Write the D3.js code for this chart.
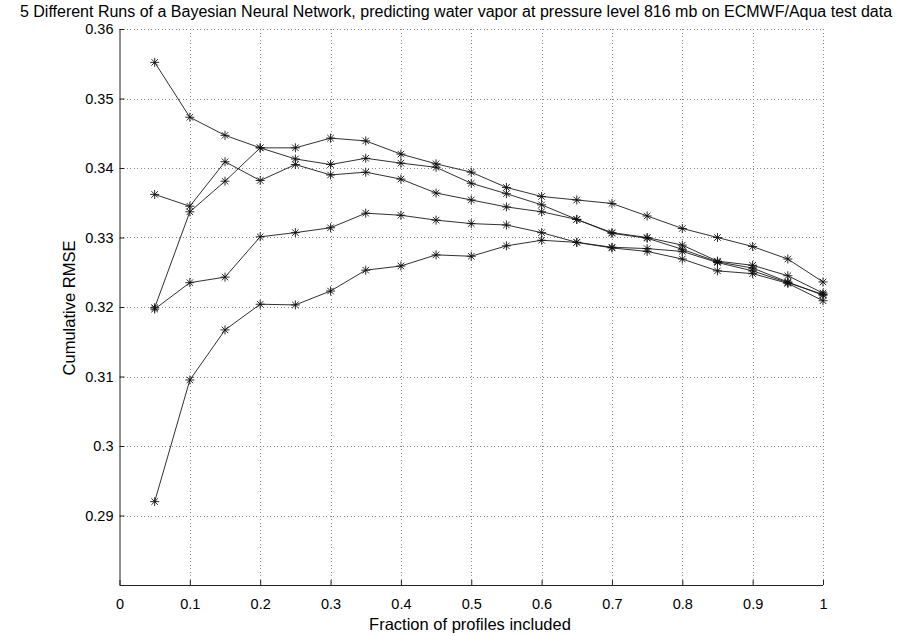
<!DOCTYPE html>
<html>
<head>
<meta charset="utf-8">
<script src="https://cdn.jsdelivr.net/npm/d3@7"></script>
<style>
  html, body { margin: 0; padding: 0; background: #fff; }
  svg { display: block; }
  text { font-family: "Liberation Sans", Arial, Helvetica, sans-serif; fill: #000; }
</style>
</head>
<body>
<script>
// Fraction of profiles included (x) and cumulative RMSE for five runs
const fractions = [0.05, 0.10, 0.15, 0.20, 0.25, 0.30, 0.35, 0.40, 0.45, 0.50,
                   0.55, 0.60, 0.65, 0.70, 0.75, 0.80, 0.85, 0.90, 0.95, 1.00];

const run1 = [0.3552, 0.3473, 0.3447, 0.3429, 0.3413, 0.3405, 0.3414, 0.3407, 0.3401, 0.3378,
              0.3363, 0.3347, 0.3326, 0.3307, 0.3300, 0.3289, 0.3266, 0.3260, 0.3245, 0.3220];
const run2 = [0.3199, 0.3337, 0.3381, 0.3429, 0.3429, 0.3443, 0.3439, 0.3420, 0.3406, 0.3394,
              0.3372, 0.3359, 0.3354, 0.3349, 0.3331, 0.3313, 0.3300, 0.3287, 0.3269, 0.3236];
const run3 = [0.3362, 0.3345, 0.3409, 0.3382, 0.3405, 0.3390, 0.3394, 0.3384, 0.3364, 0.3354,
              0.3344, 0.3337, 0.3326, 0.3306, 0.3299, 0.3283, 0.3265, 0.3256, 0.3236, 0.3217];
const run4 = [0.3197, 0.3235, 0.3243, 0.3301, 0.3307, 0.3314, 0.3335, 0.3332, 0.3325, 0.3320,
              0.3318, 0.3307, 0.3293, 0.3286, 0.3284, 0.3280, 0.3264, 0.3252, 0.3235, 0.3218];
const run5 = [0.2920, 0.3095, 0.3167, 0.3204, 0.3203, 0.3223, 0.3253, 0.3259, 0.3275, 0.3273,
              0.3288, 0.3296, 0.3293, 0.3285, 0.3280, 0.3269, 0.3252, 0.3248, 0.3234, 0.3209];

const runs = [run1, run2, run3, run4, run5];

const xTicks = [0, 0.1, 0.2, 0.3, 0.4, 0.5, 0.6, 0.7, 0.8, 0.9, 1];
const yTicks = [0.29, 0.30, 0.31, 0.32, 0.33, 0.34, 0.35, 0.36];

const titleText = "5 Different Runs of a Bayesian Neural Network, predicting water vapor at pressure level 816 mb on ECMWF/Aqua test data";
const xLabelText = "Fraction of profiles included";
const yLabelText = "Cumulative RMSE";

const W = 909, H = 636;
const plot = { left: 119.5, right: 823, top: 29, bottom: 585 };

const svg = d3.select("body").append("svg")
  .attr("width", W).attr("height", H);

const x = d3.scaleLinear().domain([0, 1]).range([plot.left, plot.right]);
const y = d3.scaleLinear().domain([0.28, 0.36]).range([plot.bottom, plot.top]);

// dotted grid
const grid = svg.append("g").attr("class", "grid")
  .attr("stroke", "#8a8a8a").attr("stroke-width", 1)
  .attr("stroke-dasharray", "1,2.5").attr("shape-rendering", "crispEdges");
grid.selectAll("line.gx").data(xTicks.filter(d => d > 0)).join("line")
  .attr("class", "gx")
  .attr("x1", d => Math.round(x(d)) + 0.5).attr("x2", d => Math.round(x(d)) + 0.5)
  .attr("y1", plot.top).attr("y2", plot.bottom);
grid.selectAll("line.gy").data(yTicks).join("line")
  .attr("class", "gy")
  .attr("y1", d => Math.round(y(d)) + 0.5).attr("y2", d => Math.round(y(d)) + 0.5)
  .attr("x1", plot.left).attr("x2", plot.right);

// axes: bottom and left, ticks pointing inward
const xAxis = d3.axisBottom(x).tickValues(xTicks).tickSize(-5).tickPadding(13.5)
  .tickFormat(d => d3.format("~g")(d));
const yAxis = d3.axisLeft(y).tickValues(yTicks).tickSize(-5).tickPadding(6)
  .tickFormat(d => d3.format("~g")(+d.toFixed(2)));

const gx = svg.append("g")
  .attr("transform", `translate(0,${plot.bottom})`)
  .call(xAxis);
const gy = svg.append("g")
  .attr("transform", `translate(${plot.left},0)`)
  .call(yAxis);

[gx, gy].forEach(g => {
  g.select(".domain").attr("stroke", "#222").attr("stroke-width", 1);
  g.selectAll(".tick line").attr("stroke", "#222");
  g.selectAll(".tick text")
    .attr("font-family", '"Liberation Sans", Arial, sans-serif')
    .attr("font-size", 14.5).attr("fill", "#000");
});
// left and bottom only, with no outer end ticks
gx.select(".domain").attr("d", `M${plot.left},0.5H${plot.right}`);
gy.select(".domain").attr("d", `M0.5,${plot.bottom}V${plot.top}`);

// lines
const line = d3.line()
  .x((d, i) => x(fractions[i]))
  .y(d => y(d));

svg.append("g").selectAll("path").data(runs).join("path")
  .attr("d", line)
  .attr("fill", "none")
  .attr("stroke", "#1a1a1a")
  .attr("stroke-width", 0.9);

// asterisk markers
const r = 4.5, rd = r * 0.72;
const star = `M${-r},0H${r}M0,${-r}V${r}M${-rd},${-rd}L${rd},${rd}M${-rd},${rd}L${rd},${-rd}`;

const markerG = svg.append("g");
runs.forEach(run => {
  markerG.append("g").selectAll("path").data(run).join("path")
    .attr("transform", (d, i) => `translate(${x(fractions[i])},${y(d)})`)
    .attr("d", star)
    .attr("fill", "none")
    .attr("stroke", "#111")
    .attr("stroke-width", 0.9);
});

// title and axis labels
svg.append("text")
  .attr("x", 456).attr("y", 17)
  .attr("text-anchor", "middle")
  .attr("font-size", 16)
  .text(titleText);

svg.append("text")
  .attr("x", 470).attr("y", 630)
  .attr("text-anchor", "middle")
  .attr("font-size", 16.5)
  .text(xLabelText);

svg.append("text")
  .attr("transform", `translate(75,308) rotate(-90)`)
  .attr("text-anchor", "middle")
  .attr("font-size", 16.5)
  .text(yLabelText);
</script>
</body>
</html>
